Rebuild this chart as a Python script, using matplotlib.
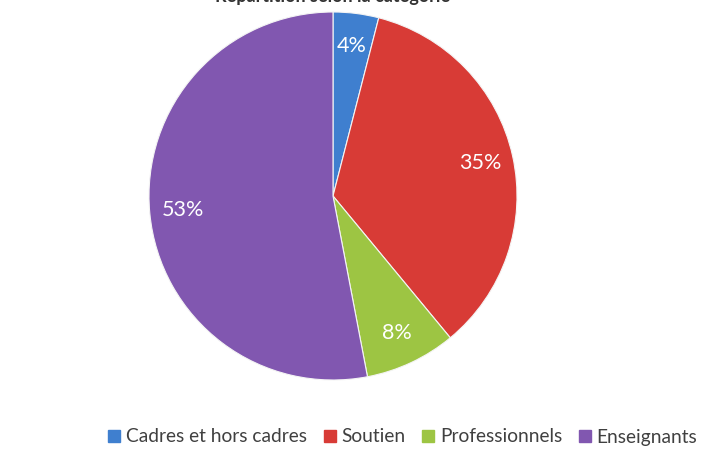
import matplotlib.pyplot as plt
from matplotlib.lines import Line2D

# données du graphique
categories = ["Cadres et hors cadres", "Soutien", "Professionnels", "Enseignants"]
valeurs = [4, 35, 8, 53]
couleurs = ["#3f7fcf", "#d83b36", "#9dc543", "#8157b0"]
titre = "Répartition selon la catégorie"

plt.rcParams['font.family'] = ['Lato', 'DejaVu Sans']

fig = plt.figure(figsize=(7.02, 4.51), dpi=100)
ax = fig.add_axes([(333 - 184) / 702, 1 - (196 + 184) / 451, 368 / 702, 368 / 451])

wedges, textes, pcts = ax.pie(valeurs, colors=couleurs, startangle=90, counterclock=False,
                              autopct='%1.0f%%', pctdistance=0.82,
                              wedgeprops=dict(edgecolor='#f4f4f4', linewidth=0.8),
                              textprops=dict(color='white', fontsize=15.5))
ax.set_aspect('auto')
ax.set_xlim(-1, 1)
ax.set_ylim(-1, 1)

# titre coupé en haut comme dans l'original
fig.text(333 / 702, 1 - 2 / 451, titre, ha='center', va='baseline', fontsize=13,
         fontweight='bold', color='#333333')

handles = [Line2D([], [], marker='s', linestyle='none', markersize=8.5,
                  markerfacecolor=c, markeredgecolor=c) for c in couleurs]
fig.legend(handles, categories, loc='center', bbox_to_anchor=(401 / 702, 1 - 437 / 451),
           ncol=4, frameon=False, fontsize=13.8, handletextpad=0.1, columnspacing=0.7,
           handlelength=1.0, labelcolor='#404040')

fig.savefig("out.png", dpi=100)
